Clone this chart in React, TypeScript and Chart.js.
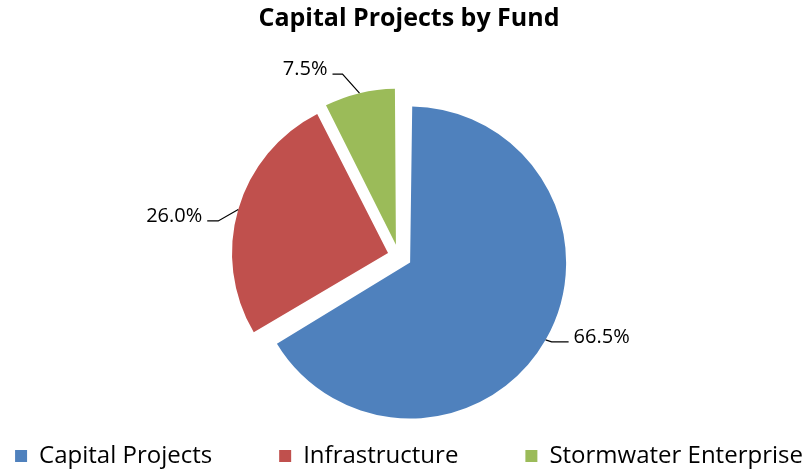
import React, { useEffect, useRef } from 'react';
import { Chart, registerables } from 'chart.js';

Chart.register(...registerables);

const categories = ['Capital Projects', 'Infrastructure', 'Stormwater Enterprise'];
const shares = [66.5, 26.0, 7.5];
const percentLabels = ['66.5%', '26.0%', '7.5%'];
const colors = ['#4F81BD', '#C0504D', '#9BBB59'];
const explode = [53, 44, 46];
const leaders = [
  { ex: 6, ey: 2, len: 17, side: 1 },
  { ex: -20, ey: 11.5, len: 11, side: -1 },
  { ex: -17, ey: -19, len: 10, side: -1 },
];

const FONT = "'Open Sans', 'Noto Sans', sans-serif";

const pieShift = {
  id: 'pieShift',
  afterLayout(chart: any, _args: any, opts: any) {
    const dx = opts.dx || 0;
    chart.chartArea.left += dx;
    chart.chartArea.right += dx;
  },
};

const radiusFix = {
  id: 'radiusFix',
  beforeDatasetsDraw(chart: any) {
    const meta = chart.getDatasetMeta(0);
    const R = meta.controller.outerRadius;
    meta.data.forEach((arc: any) => {
      const t = (arc.options.offset || 0) / 4;
      const fix = 1 - Math.sin(Math.min(Math.PI, arc.circumference || 0));
      arc.outerRadius = R - t * fix;
    });
  },
};

const leaderLabels = {
  id: 'leaderLabels',
  afterDatasetsDraw(chart: any) {
    const ctx = chart.ctx;
    const meta = chart.getDatasetMeta(0);
    const R = meta.controller.outerRadius;
    ctx.save();
    meta.data.forEach((arc: any, i: number) => {
      const t = (arc.options.offset || 0) / 4;
      const mid = (arc.startAngle + arc.endAngle) / 2;
      const cx = arc.x + Math.cos(mid) * t;
      const cy = arc.y + Math.sin(mid) * t;
      const ax = cx + Math.cos(mid) * R;
      const ay = cy + Math.sin(mid) * R;
      const L = leaders[i];
      const bx = ax + L.ex;
      const by = ay + L.ey;
      const ex = bx + L.side * L.len;
      ctx.strokeStyle = '#000';
      ctx.lineWidth = 1.2;
      ctx.beginPath();
      ctx.moveTo(ax, ay);
      ctx.lineTo(bx, by);
      ctx.lineTo(ex, by);
      ctx.stroke();
      ctx.fillStyle = '#000';
      ctx.font = `20px ${FONT}`;
      ctx.textBaseline = 'middle';
      ctx.textAlign = L.side > 0 ? 'left' : 'right';
      ctx.fillText(percentLabels[i], ex + L.side * 5, by - 5);
    });
    ctx.restore();
  },
};

export default function App() {
  const ref = useRef<HTMLCanvasElement | null>(null);
  useEffect(() => {
    if (!ref.current) return;
    const chart = new Chart(ref.current, {
      type: 'pie',
      data: {
        labels: categories,
        datasets: [
          {
            data: shares,
            backgroundColor: colors,
            borderWidth: 0,
            offset: explode,
          },
        ],
      },
      options: {
        responsive: false,
        animation: false,
        radius: 156,
        layout: { padding: { left: -70, right: -79, top: 0, bottom: -7 } },
        plugins: {
          pieShift: { dx: -5.9 },
          tooltip: { enabled: false },
          title: {
            display: true,
            text: 'Capital Projects by Fund',
            color: '#000',
            font: { family: FONT, size: 25, weight: 'bold' },
            padding: { top: 4, bottom: 101 },
          },
          legend: {
            position: 'bottom',
            labels: {
              color: '#000',
              font: { family: FONT, size: 24 },
              boxWidth: 12,
              boxHeight: 12,
              padding: 67,
            },
          },
        } as any,
      },
      plugins: [pieShift, radiusFix, leaderLabels],
    });
    return () => chart.destroy();
  }, []);
  return (
    <div style={{ position: 'fixed', left: 0, top: 0, width: 809, height: 471, background: '#fff' }}>
      <canvas ref={ref} width={809} height={471} style={{ display: 'block' }} />
    </div>
  );
}
